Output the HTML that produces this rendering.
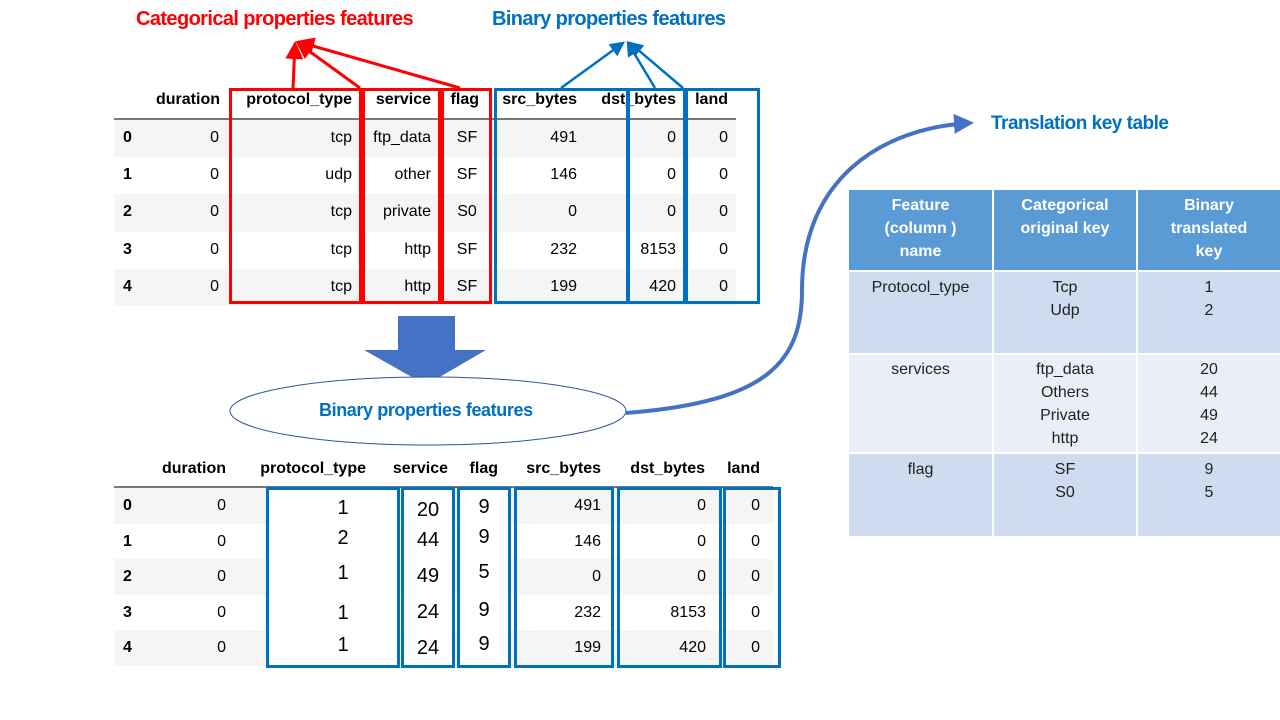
<!DOCTYPE html>
<html><head><meta charset="utf-8">
<style>
body{margin:0;width:1280px;height:720px;background:#fff;position:relative;overflow:hidden;font-family:"Liberation Sans",Arial,sans-serif;}
.t{position:absolute;white-space:nowrap;line-height:1;}
.h{font-weight:bold;font-size:16px;color:#000;}
.c{font-size:16px;color:#000;}
.n{font-size:20px;color:#000;font-family:"Liberation Sans",sans-serif;}
.row{position:absolute;background:#f5f5f5;}
.box{position:absolute;box-sizing:border-box;}
.kt{position:absolute;font-size:16px;color:#222;text-align:center;line-height:23px;}
</style></head><body>
<div id="root"></div>
<div class="t" style="left:136px;top:9px;font-size:20px;font-weight:bold;color:#ff0000;letter-spacing:-0.6px">Categorical properties features</div>
<div class="t" style="left:492px;top:9px;font-size:20px;font-weight:bold;color:#0070c0;letter-spacing:-0.6px">Binary properties features</div>
<div class="t" style="left:991px;top:114px;font-size:19px;font-weight:bold;color:#0070c0;letter-spacing:-0.5px">Translation key table</div>

<svg width="1280" height="720" style="position:absolute;left:0;top:0;z-index:5;pointer-events:none">
<defs>
<marker id="ar" markerWidth="6" markerHeight="6" refX="5" refY="3" orient="auto" markerUnits="strokeWidth"><path d="M0,0 L6,3 L0,6 z" fill="#ff0000"/></marker>
<marker id="ab" markerWidth="6" markerHeight="6" refX="5" refY="3" orient="auto" markerUnits="strokeWidth"><path d="M0,0 L6,3 L0,6 z" fill="#0070c0"/></marker>
<marker id="ac" markerWidth="5" markerHeight="5" refX="4" refY="2.5" orient="auto" markerUnits="strokeWidth"><path d="M0,0 L5,2.5 L0,5 z" fill="#4472c4"/></marker>
</defs>
<g stroke="#ff0000" stroke-width="3" fill="none">
<line x1="293" y1="88" x2="295" y2="44" marker-end="url(#ar)"/>
<line x1="360" y1="88" x2="298" y2="43" marker-end="url(#ar)"/>
<line x1="460" y1="88" x2="299" y2="42" marker-end="url(#ar)"/>
</g>
<g stroke="#0070c0" stroke-width="2.5" fill="none">
<line x1="561" y1="88" x2="623" y2="43" marker-end="url(#ab)"/>
<line x1="655" y1="88" x2="628" y2="43" marker-end="url(#ab)"/>
<line x1="683" y1="88" x2="630" y2="43" marker-end="url(#ab)"/>
</g>
<path d="M398,316 H455 V350 H486 L426,385 L364,350 H398 Z" fill="#4472c4"/>
<ellipse cx="428" cy="411" rx="198" ry="34" fill="#fff" stroke="#2f5597" stroke-width="1"/>
<path d="M626,413 C770,402 802,360 802,290 C802,180 880,128 970,123" stroke="#4472c4" stroke-width="4" fill="none" marker-end="url(#ac)"/>
</svg>
<div class="t" style="left:319px;top:401px;font-size:18px;font-weight:bold;color:#0070c0;z-index:6;letter-spacing:-0.4px">Binary properties features</div>

<div id="top"></div>
<div id="bot"></div>

<div style="position:absolute;left:849px;top:190px;width:431px;height:346px;">
 <div style="position:absolute;left:0;top:0;width:431px;height:80px;background:#5b9bd5"></div>
 <div style="position:absolute;left:0;top:82px;width:431px;height:81px;background:#cfdbee"></div>
 <div style="position:absolute;left:0;top:165px;width:431px;height:97px;background:#e9eef7"></div>
 <div style="position:absolute;left:0;top:264px;width:431px;height:82px;background:#cfdbee"></div>
 <div style="position:absolute;left:143px;top:0;width:2px;height:346px;background:#fff"></div>
 <div style="position:absolute;left:287px;top:0;width:2px;height:346px;background:#fff"></div>
 <div class="kt" style="left:0;top:4px;width:143px;color:#fff;font-weight:bold">Feature<br>(column )<br>name</div>
 <div class="kt" style="left:145px;top:4px;width:142px;color:#fff;font-weight:bold">Categorical<br>original key</div>
 <div class="kt" style="left:289px;top:4px;width:142px;color:#fff;font-weight:bold">Binary<br>translated<br>key</div>
 <div class="kt" style="left:0;top:86px;width:143px">Protocol_type</div>
 <div class="kt" style="left:145px;top:86px;width:142px">Tcp<br>Udp</div>
 <div class="kt" style="left:289px;top:86px;width:142px">1<br>2</div>
 <div class="kt" style="left:0;top:168px;width:143px">services</div>
 <div class="kt" style="left:145px;top:168px;width:142px">ftp_data<br>Others<br>Private<br>http</div>
 <div class="kt" style="left:289px;top:168px;width:142px">20<br>44<br>49<br>24</div>
 <div class="kt" style="left:0;top:268px;width:143px">flag</div>
 <div class="kt" style="left:145px;top:268px;width:142px">SF<br>S0</div>
 <div class="kt" style="left:289px;top:268px;width:142px">9<br>5</div>
</div>

<script>
const headers=["duration","protocol_type","service","flag","src_bytes","dst_bytes","land"];
const protocols=["tcp","udp","tcp","tcp","tcp"];
const services=["ftp_data","other","private","http","http"];
const flags=["SF","SF","S0","SF","SF"];
const srcBytes=[491,146,0,232,199];
const dstBytes=[0,0,0,8153,420];
const land=[0,0,0,0,0];
const protoCodes=[1,2,1,1,1];
const serviceCodes=[20,44,49,24,24];
const flagCodes=[9,9,5,9,9];

function txt(parent,s,cls,x,y,align,name){
  const d=document.createElement('div');
  d.className='t '+cls;
  d.textContent=s;
  
  
  d.style.top=y+'px';
  if(align==='r'){d.style.right=(1280-x)+'px';}
  else if(align==='c'){d.style.left=(x-40)+'px';d.style.width='80px';d.style.textAlign='center';}
  else d.style.left=x+'px';
  parent.appendChild(d);return d;
}
function box(parent,x,y,w,h,color,fill,name){
  const b=document.createElement('div');
  b.className='box';
  
  
  b.style.cssText+=`left:${x}px;top:${y}px;width:${w}px;height:${h}px;border:3px solid ${color};`+(fill?'background:#fff;z-index:2;':'z-index:3;');
  parent.appendChild(b);
}
function table(parent,opt){
  const {x0,x1,hy,line,rowTop,rh,cols,name}=opt;
  headers.forEach((h,i)=>txt(parent,h,'h',cols[i],hy,'r',name+'-header-'+h));
  const l=document.createElement('div');
  
  
  l.style.cssText=`position:absolute;left:${x0}px;top:${line}px;width:${x1-x0}px;height:2px;background:#777`;
  parent.appendChild(l);
  for(let r=0;r<5;r++){
    if(r%2===0){
      const rw=document.createElement('div');
      rw.className='row';
      
      
      rw.style.cssText+=`left:${x0}px;top:${rowTop+r*rh}px;width:${x1-x0}px;height:${rh}px`;
      parent.appendChild(rw);
    }
  }
}
const topEl=document.getElementById('top');
const tcols=[220,352,431,479,577,676,728];
table(topEl,{x0:114,x1:736,hy:92,line:118,rowTop:120,rh:37.2,cols:tcols,name:'top'});
for(let r=0;r<5;r++){
  const y=120+r*37.2+10;
  txt(topEl,String(r),'h',123,y,'l','top-index');
  txt(topEl,'0','c',219,y,'r','top-duration');
  txt(topEl,protocols[r],'c',352,y,'r','top-protocol');
  txt(topEl,services[r],'c',431,y,'r','top-service');
  txt(topEl,flags[r],'c',467,y,'c','top-flag');
  txt(topEl,String(srcBytes[r]),'c',577,y,'r','top-src-bytes');
  txt(topEl,String(dstBytes[r]),'c',676,y,'r','top-dst-bytes');
  txt(topEl,String(land[r]),'c',728,y,'r','top-land');
}
box(topEl,229,88,133,216,'#ff0000',false,'protocol-box-red');
box(topEl,362,88,79,216,'#ff0000',false,'service-box-red');
box(topEl,441,88,51,216,'#ff0000',false,'flag-box-red');
box(topEl,494,88,135,216,'#0070c0',false,'src-box-blue');
box(topEl,627,88,59,216,'#0070c0',false,'dst-box-blue');
box(topEl,685,88,75,216,'#0070c0',false,'land-box-blue');

const botEl=document.getElementById('bot');
const bcols=[226,366,448,498,601,705,760];
table(botEl,{x0:114,x1:773,hy:461,line:486,rowTop:488,rh:35.6,cols:bcols,name:'bottom'});
box(botEl,266,487,134,181,'#0070c0',true,'protocol-box');
box(botEl,401,487,54,181,'#0070c0',true,'service-box');
box(botEl,457,487,54,181,'#0070c0',true,'flag-box');
box(botEl,514,487,100,181,'#0070c0',false,'src-box');
box(botEl,617,487,105,181,'#0070c0',false,'dst-box');
box(botEl,723,487,58,181,'#0070c0',false,'land-box');
const pY=[498,528,563,603,635], sY=[500,530,566,602,638], fY=[497,527,562,600,634];
for(let r=0;r<5;r++){
  const y=488+r*35.6+10;
  txt(botEl,String(r),'h',123,y,'l','bottom-index');
  txt(botEl,'0','c',226,y,'r','bottom-duration');
  txt(botEl,String(srcBytes[r]),'c',601,y,'r','bottom-src-bytes');
  txt(botEl,String(dstBytes[r]),'c',706,y,'r','bottom-dst-bytes');
  txt(botEl,String(land[r]),'c',760,y,'r','bottom-land');
  txt(botEl,String(protoCodes[r]),'n',343,pY[r],'c','protocol-code').style.zIndex=4;
  txt(botEl,String(serviceCodes[r]),'n',428,sY[r],'c','service-code').style.zIndex=4;
  txt(botEl,String(flagCodes[r]),'n',484,fY[r],'c','flag-code').style.zIndex=4;
}
</script>
</body></html>
